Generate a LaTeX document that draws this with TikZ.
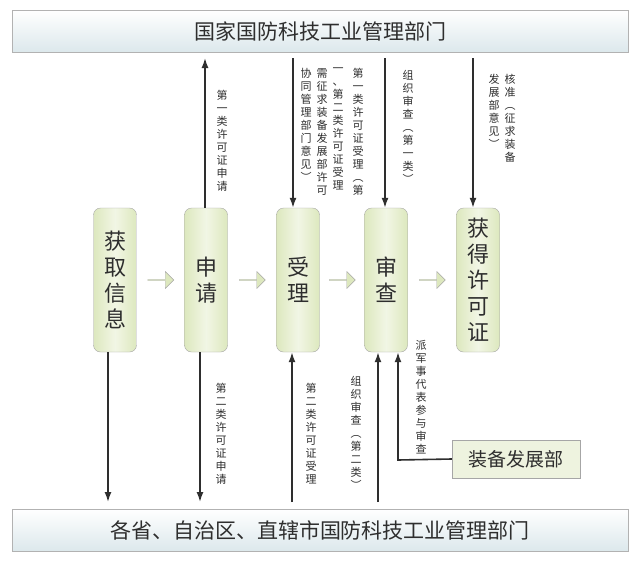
\documentclass[tikz,border=0pt]{standalone}
\usepackage{fontspec}
\newfontfamily\cjk{Noto Sans CJK SC}
\usetikzlibrary{arrows.meta,shapes.arrows,calc}
\definecolor{boxg}{HTML}{DDE8BE}
\definecolor{barb}{HTML}{DCE8EC}
\definecolor{ink}{HTML}{2E2E2E}
\tikzset{
 x=1pt,y=-1pt,
 bar/.style={draw=gray!60,top color=white,bottom color=barb,minimum width=616pt,minimum height=42pt,font=\cjk\fontsize{21}{24}\selectfont,text=ink},
 stage/.style={draw=gray!70,rounded corners=7pt,left color=boxg,right color=boxg,middle color=white!60!boxg,minimum width=43pt,minimum height=144pt,font=\cjk\fontsize{22}{26}\selectfont,text=ink,align=center},
 flow/.style={single arrow,draw=gray!70,fill=boxg,minimum width=17pt,single arrow head extend=3pt,minimum height=26pt,inner sep=0pt},
 vline/.style={ink,line width=1.6pt,-{Latex[length=10pt,width=7pt]}},
 vt/.style={align=center,inner sep=0pt,anchor=north,font=\cjk\fontsize{11}{13}\selectfont,text=ink},
}
\begin{document}
\begin{tikzpicture}
\useasboundingbox (0,0) rectangle (640,560);
\fill[white] (0,0) rectangle (640,560);
\node[bar] (top) at (320,31) {国家国防科技工业管理部门};
\node[bar] (bot) at (320,530) {各省、自治区、直辖市国防科技工业管理部门};
\node[stage] (s1) at (115,280) {获\\取\\信\\息};
\node[stage] (s2) at (206,280) {申\\请};
\node[stage] (s3) at (298,280) {受\\理};
\node[stage] (s4) at (386,280) {审\\查};
\node[stage] (s5) at (478,280) {获\\得\\许\\可\\证};
\foreach \a/\b in {s1/s2,s2/s3,s3/s4,s4/s5}
  \node[flow] at ($(\a.east)!0.5!(\b.west)$) {};
\node[draw=gray!70,fill=boxg!50,minimum width=128pt,minimum height=38pt,font=\cjk\fontsize{19}{22}\selectfont,text=ink] (zb) at (516,459) {装备发展部};
% top arrows
\coordinate (t2) at (205,58); \coordinate (t3) at (293,58); \coordinate (t4) at (385,58); \coordinate (t5) at (473,58);
\draw[vline] (s2.north -| t2) -- (t2);
\draw[vline] (t3) -- (s3.north -| t3);
\draw[vline] (t4) -- (s4.north -| t4);
\draw[vline] (t5) -- (s5.north -| t5);
% bottom arrows
\coordinate (b1) at (108,502); \coordinate (b2) at (200,502); \coordinate (b3) at (292,502); \coordinate (b4) at (378,502);
\draw[vline] (s1.south -| b1) -- (b1);
\draw[vline] (s2.south -| b2) -- (b2);
\draw[vline] (b3) -- (s3.south -| b3);
\draw[vline] (b4) -- (s4.south -| b4);
\coordinate (k) at (398,460);
\draw[vline] (zb.west) -- (k) -- (s4.south -| k);
% labels
\node[vt] at (222,90) {第\\一\\类\\许\\可\\证\\申\\请};
\node[vt] at (358,68) {第\\一\\类\\许\\可\\证\\受\\理\\︵\\第};
\node[vt] at (338,68) {一\\、\\第\\二\\类\\许\\可\\证\\受\\理};
\node[vt] at (322,68) {需\\征\\求\\装\\备\\发\\展\\部\\许\\可};
\node[vt] at (306,68) {协\\同\\管\\理\\部\\门\\意\\见\\︶};
\node[vt] at (408,70) {组\\织\\审\\查\\︵\\第\\一\\类\\︶};
\node[vt] at (510,74) {核\\准\\︵\\征\\求\\装\\备};
\node[vt] at (494,74) {发\\展\\部\\意\\见\\︶};
\node[vt] at (221,383) {第\\二\\类\\许\\可\\证\\申\\请};
\node[vt] at (311,383) {第\\二\\类\\许\\可\\证\\受\\理};
\node[vt] at (356,376) {组\\织\\审\\查\\︵\\第\\二\\类\\︶};
\node[vt] at (421,340) {派\\军\\事\\代\\表\\参\\与\\审\\查};
\end{tikzpicture}
\end{document}
